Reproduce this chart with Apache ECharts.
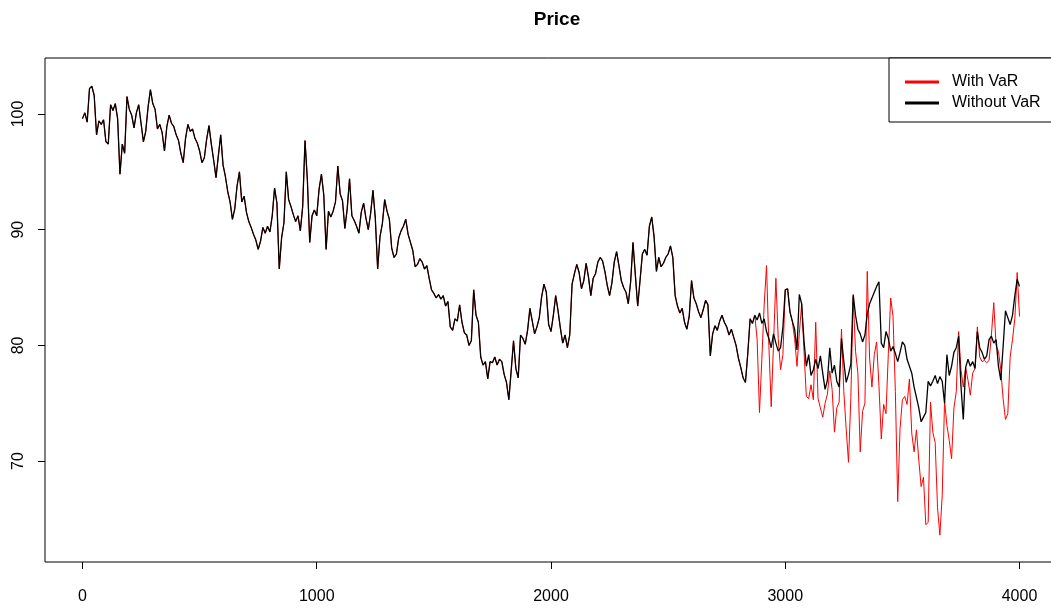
<!DOCTYPE html>
<html>
<head>
<meta charset="utf-8">
<title>Price</title>
<script src="https://cdn.jsdelivr.net/npm/echarts@6/dist/echarts.min.js"></script>
<style>
  html, body { margin: 0; padding: 0; background: #fff; }
  #chart { width: 1051px; height: 608px; }
</style>
</head>
<body>
<div id="chart"></div>
<script>
// Simulation step between stored price samples
const STEP = 10;
const xTicks = [0, 1000, 2000, 3000, 4000];
const yTicks = [70, 80, 90, 100];
const seriesNames = ['With VaR', 'Without VaR'];

// Price path without the VaR limit, one value every STEP periods (t = 0 .. 4000)
const withoutVaR = [
  99.6, 100.1, 99.3, 102.2, 102.4, 101.6, 98.2, 99.4, 99.1, 99.5,
  97.6, 97.4, 100.8, 100.3, 100.9, 99.6, 94.8, 97.4, 96.6, 101.5,
  100.4, 99.9, 98.8, 100.1, 100.8, 99.2, 97.6, 98.5, 100.6, 102.1,
  100.9, 100.4, 98.7, 99.1, 98.4, 96.8, 98.9, 99.9, 99.2, 98.9,
  98.2, 97.7, 96.6, 95.8, 97.9, 99.1, 98.5, 98.7, 97.9, 97.5,
  96.8, 95.8, 96.2, 97.8, 99.0, 97.4, 96.0, 94.5, 96.4, 98.2,
  95.6, 94.6, 93.3, 92.4, 90.9, 91.8, 93.8, 95.0, 92.4, 92.9,
  91.5, 90.7, 90.2, 89.6, 89.1, 88.3, 89.0, 90.2, 89.7, 90.3,
  89.8, 91.2, 93.6, 92.3, 86.6, 89.3, 90.6, 95.0, 92.6, 92.0,
  91.3, 90.7, 91.2, 89.9, 92.0, 97.7, 94.3, 88.9, 91.2, 91.7,
  91.2, 93.5, 94.8, 93.0, 88.3, 91.6, 91.1, 91.6, 92.4, 95.5,
  93.1, 92.5, 90.1, 91.8, 94.4, 91.2, 90.8, 90.3, 89.7, 91.5,
  92.3, 91.0, 90.0, 91.4, 93.4, 91.0, 86.6, 89.4, 90.5, 92.6,
  91.6, 90.9, 88.4, 87.6, 87.9, 89.3, 89.9, 90.3, 90.9, 89.6,
  88.9, 88.2, 86.8, 87.0, 87.5, 87.2, 86.6, 86.9, 85.8, 84.8,
  84.5, 84.1, 84.4, 84.0, 84.3, 83.4, 83.8, 81.6, 81.3, 82.3,
  82.1, 83.5, 82.0, 81.1, 80.9, 80.0, 80.4, 84.8, 82.6, 82.0,
  79.0, 78.3, 78.6, 77.1, 78.6, 78.5, 79.0, 78.3, 78.8, 78.6,
  77.5, 76.8, 75.3, 77.8, 80.4, 78.0, 77.2, 80.9, 80.6, 80.1,
  81.3, 83.2, 82.1, 81.0, 81.6, 82.4, 84.2, 85.3, 84.6, 81.8,
  81.2, 82.6, 84.3, 83.0, 81.5, 80.2, 80.9, 79.8, 80.9, 85.3,
  86.2, 87.0, 86.3, 84.9, 85.6, 87.1, 85.9, 84.3, 85.8, 86.2,
  87.2, 87.6, 87.3, 86.4, 85.2, 84.3, 85.4, 87.2, 88.1, 86.9,
  85.6, 85.0, 84.6, 83.6, 85.5, 88.9, 86.1, 83.4, 85.6, 87.9,
  88.3, 87.8, 90.3, 91.1, 89.4, 86.4, 87.6, 86.8, 87.1, 87.6,
  87.9, 88.6, 87.6, 84.3, 83.4, 82.8, 83.2, 82.0, 81.4, 82.5,
  85.6, 84.1, 83.6, 82.9, 82.4, 83.1, 83.9, 83.5, 79.1, 81.0,
  81.7, 81.3, 82.1, 82.6, 82.0, 81.6, 80.9, 81.4, 80.7, 80.0,
  78.9, 78.1, 77.2, 76.8, 79.3, 82.3, 81.9, 82.6, 82.2, 82.8,
  81.9, 82.3, 81.2, 80.6, 79.8, 81.0, 80.2, 79.5, 79.8, 81.6,
  84.8, 84.9, 82.9, 82.1, 81.4, 79.6, 84.4, 83.6, 80.4, 78.2,
  79.2, 77.4, 77.9, 78.8, 78.0, 79.1, 77.6, 76.2, 77.0, 79.8,
  77.6, 78.3, 76.9, 76.4, 80.6, 78.6, 76.8, 77.5, 78.4, 84.4,
  82.6, 81.4, 81.0, 80.3, 80.9, 82.7, 83.6, 84.1, 84.6, 85.1,
  85.5, 80.2, 79.8, 81.2, 80.6, 79.5, 79.9, 79.3, 78.6, 79.4,
  80.3, 80.0, 78.8, 78.2, 77.6, 76.4, 75.5, 74.6, 73.4, 73.8,
  74.2, 76.9, 76.5, 76.9, 77.4, 76.7, 77.3, 76.9, 75.0, 79.2,
  77.4, 78.2, 79.4, 79.8, 80.8, 76.5, 73.6, 78.1, 78.8, 78.2,
  78.6, 78.0, 81.2, 79.8, 79.4, 78.8, 79.1, 80.5, 80.8, 80.2,
  80.5, 78.2, 77.0, 79.9, 83.0, 82.4, 81.8, 82.6, 84.3, 85.7,
  85.1
];

// The VaR run follows the same path until t = 2850, after which it diverges
const VAR_START = 2850;
const withVaRAfterStart = [
  82.3, 81.9, 82.6, 80.5, 74.2, 78.8, 83.5, 86.9, 80.0, 74.7,
  80.2, 85.8, 80.6, 77.9, 79.2,
  84.8, 84.9, 82.9, 82.1, 80.6, 78.2, 81.0, 83.6, 79.5, 75.6,
  75.4, 76.6, 75.3, 82.0, 75.4, 74.6, 73.8, 75.0, 75.8, 77.8,
  76.2, 72.5, 74.6, 75.1, 81.4, 76.0, 72.8, 69.9, 75.5, 84.2,
  79.5, 77.6, 70.8, 74.3, 75.0, 86.4, 78.9, 76.4, 79.2, 80.3,
  76.5, 71.9, 74.9, 74.1, 79.3, 84.1, 82.5, 76.0, 66.5, 72.8,
  75.3, 75.6, 74.9, 77.1, 72.4, 70.8, 72.7, 70.1, 67.8, 68.6,
  64.5, 64.7, 75.1, 72.5, 71.6, 66.0, 63.6, 67.0, 75.2, 73.1,
  71.8, 70.2, 74.6, 76.0, 81.2, 77.9, 76.4, 78.1, 77.0, 75.7,
  77.6, 78.0, 81.6, 79.0, 78.6, 78.7, 78.5, 78.7, 80.9, 83.7,
  80.0, 79.5, 77.9, 75.4, 73.6, 74.1, 79.0, 80.5, 82.3, 86.3,
  82.5
];

const withVaR = withoutVaR.slice(0, VAR_START / STEP).concat(withVaRAfterStart);

const toPairs = arr => arr.map((v, i) => [i * STEP, v]);

const FONT = 'Liberation Sans, Arial, sans-serif';
const chart = echarts.init(document.getElementById('chart'), null, { renderer: 'canvas' });

chart.setOption({
  animation: false,
  backgroundColor: '#ffffff',
  title: {
    text: 'Price',
    left: 552,
    textAlign: 'center',
    top: 5,
    textStyle: { fontFamily: FONT, fontSize: 19, fontWeight: 'bold', color: '#000' }
  },
  legend: {
    data: seriesNames.map(n => ({ name: n, icon: 'rect' })),
    orient: 'vertical',
    left: 889,
    top: 58,
    padding: [16, 60, 11, 16],
    itemWidth: 34,
    itemHeight: 3,
    itemGap: 5,
    borderColor: '#000',
    borderWidth: 1,
    borderRadius: 0,
    backgroundColor: '#fff',
    selectedMode: false,
    textStyle: { fontFamily: FONT, fontSize: 16, color: '#000', lineHeight: 16, padding: [0, 0, 0, 8] }
  },
  grid: {
    left: 45,
    top: 58,
    width: 1012,
    height: 504,
    show: true,
    borderColor: '#000',
    borderWidth: 1,
    containLabel: false,
    outerBoundsMode: 'none'
  },
  xAxis: {
    type: 'value',
    min: -160,
    max: 4160,
    splitLine: { show: false },
    axisLine: { show: false, onZero: false },
    axisTick: { show: true, length: 7, lineStyle: { color: '#000' }, customValues: xTicks },
    axisLabel: {
      customValues: xTicks,
      formatter: v => String(v),
      margin: 27,
      fontFamily: FONT,
      fontSize: 16,
      color: '#000'
    }
  },
  yAxis: {
    type: 'value',
    min: 61.28,
    max: 104.84,
    splitLine: { show: false },
    axisLine: { show: false, onZero: false },
    axisTick: { show: true, length: 7, lineStyle: { color: '#000' }, customValues: yTicks },
    axisLabel: {
      customValues: yTicks,
      formatter: v => String(v),
      rotate: 90,
      margin: 18,
      fontFamily: FONT,
      fontSize: 16,
      color: '#000'
    }
  },
  series: [
    {
      name: seriesNames[0],
      type: 'line',
      data: toPairs(withVaR),
      symbol: 'none',
      sampling: null,
      lineStyle: { color: '#ff0000', width: 1 },
      itemStyle: { color: '#ff0000' }
    },
    {
      name: seriesNames[1],
      type: 'line',
      data: toPairs(withoutVaR),
      symbol: 'none',
      sampling: null,
      lineStyle: { color: '#000000', width: 1.3 },
      itemStyle: { color: '#000000' }
    }
  ]
});
</script>
</body>
</html>
